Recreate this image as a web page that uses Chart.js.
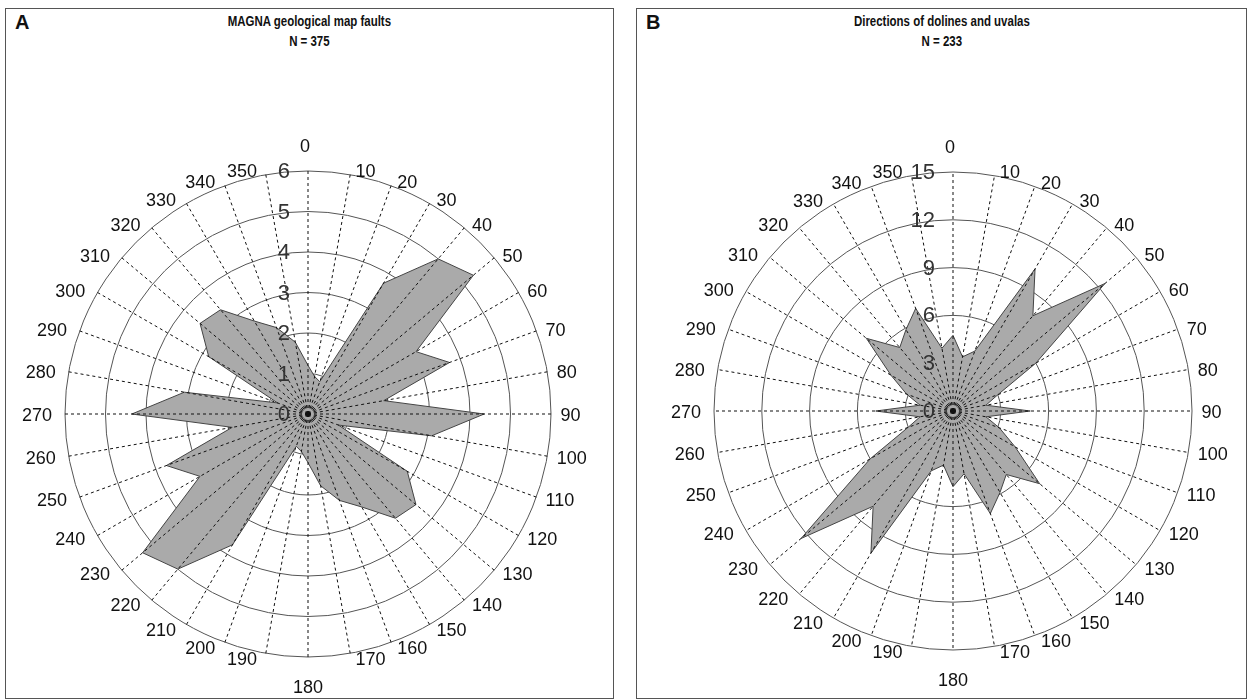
<!DOCTYPE html>
<html>
<head>
<meta charset="utf-8">
<script src="https://cdn.jsdelivr.net/npm/chart.js@4.4.0/dist/chart.umd.min.js"></script>
<style>
  body { margin: 0; background: #fff; width: 1253px; height: 699px; overflow: hidden; position: relative; }
  .panel { position: absolute; border: 1px solid #555; box-sizing: border-box; }
  .tag { position: absolute; left: 9px; top: 2px; font: bold 20px 'Liberation Sans', Arial, sans-serif; color: #111; }
  .title { position: absolute; left: 0; right: 0; top: 2px; text-align: center; }
  .title span { display: inline-block; transform: scaleX(0.74);
           font-family: 'Liberation Sans', Arial, sans-serif;
           font-weight: bold; font-size: 15.5px; line-height: 20px; color: #111; }
  canvas { position: absolute; }
</style>
</head>
<body>
<div class="panel" style="left:5px; top:8px; width:609px; height:691px;">
  <div class="tag">A</div>
  <div class="title"><span>MAGNA geological map faults<br>N = 375</span></div>
</div>
<div class="panel" style="left:636px; top:8px; width:611px; height:691px;">
  <div class="tag">B</div>
  <div class="title"><span>Directions of dolines and uvalas<br>N = 233</span></div>
</div>
<script>
// direction labels (degrees, clockwise from north)
const directions = ['0', '10', '20', '30', '40', '50', '60', '70', '80', '90', '100', '110',
    '120', '130', '140', '150', '160', '170', '180', '190', '200', '210', '220', '230',
    '240', '250', '260', '270', '280', '290', '300', '310', '320', '330', '340', '350'];

// A: MAGNA geological map faults (%)
const faultValues = [1.2, 0.94, 0.85, 3.73, 5.0, 5.33, 3.08, 3.72, 1.9, 4.35, 3.1, 0.8,
    2.83, 3.48, 3.36, 2.65, 2.27, 1.8, 1.2, 0.94, 0.85, 3.73, 5.0, 5.33,
    3.08, 3.72, 1.9, 4.35, 3.1, 0.8, 2.83, 3.48, 3.36, 2.65, 2.27, 1.8];
const faultTicks = [0, 1, 2, 3, 4, 5, 6];

// B: directions of dolines and uvalas
const dolineValues = [4.75, 3.45, 4.0, 10.3, 7.8, 12.45, 6.0, 3.0, 2.1, 4.85, 2.1, 3.1,
    4.5, 7.1, 5.2, 5.9, 6.85, 4.0, 4.75, 3.45, 4.0, 10.3, 7.8, 12.45,
    6.0, 3.0, 2.1, 4.85, 2.1, 3.1, 4.5, 7.1, 5.2, 5.9, 6.85, 4.0];
const dolineTicks = [0, 3, 6, 9, 12, 15];

const MARGIN = 45;

// dashed spokes, ring values and direction labels drawn above the filled rose
const overlayPlugin = {
    id: 'overlay',
    afterDatasetsDraw(chart) {
        const s = chart.scales.r;
        const ctx = chart.ctx;
        const R = s.drawingArea;
        const n = chart.data.labels.length;
        ctx.save();
        ctx.strokeStyle = '#111';
        ctx.lineWidth = 1;
        ctx.setLineDash([3, 3]);
        for (let i = 0; i < n; i++) {
            const p = s.getPointPosition(i, R);
            ctx.beginPath();
            ctx.moveTo(s.xCenter, s.yCenter);
            ctx.lineTo(p.x, p.y);
            ctx.stroke();
        }
        ctx.setLineDash([]);

        // ring values, just left of the north spoke
        ctx.font = '22px "Liberation Sans", Arial, sans-serif';
        ctx.fillStyle = '#333';
        ctx.textAlign = 'right';
        ctx.textBaseline = 'middle';
        s.ticks.forEach(t => {
            const r = s.getDistanceFromCenterForValue(t.value);
            ctx.fillText(String(t.value), s.xCenter - 18, s.yCenter - r + 1);
        });

        // direction labels
        ctx.font = '18px "Liberation Sans", Arial, sans-serif';
        ctx.fillStyle = '#111';
        chart.data.labels.forEach((label, i) => {
            const deg = i * 360 / n;
            let p;
            if (deg === 0) {
                p = s.getPointPosition(i, R + 24);
                ctx.textAlign = 'center';
                ctx.fillText(label, p.x - 3, p.y);
            } else if (deg === 180) {
                p = s.getPointPosition(i, R + 31);
                ctx.textAlign = 'center';
                ctx.fillText(label, p.x, p.y);
            } else if (deg < 180) {
                p = s.getPointPosition(i, R + 5);
                ctx.textAlign = 'left';
                ctx.fillText(label, p.x + 4.5, p.y + 2);
            } else {
                p = s.getPointPosition(i, R + 5);
                ctx.textAlign = 'right';
                ctx.fillText(label, p.x - 8, p.y + 2);
            }
        });
        ctx.restore();
    }
};

function drawRose(values, ticks, cx, cy, radius) {
    const size = 2 * radius + 2 * MARGIN;
    const canvas = document.createElement('canvas');
    canvas.width = size;
    canvas.height = size;
    canvas.style.width = size + 'px';
    canvas.style.height = size + 'px';
    document.body.appendChild(canvas);
    const chart = new Chart(canvas, {
        type: 'radar',
        data: {
            labels: directions,
            datasets: [{
                data: values,
                backgroundColor: '#aaaaaa',
                borderColor: '#444',
                borderWidth: 1,
                pointRadius: 0,
                tension: 0,
                fill: true
            }]
        },
        options: {
            responsive: false,
            maintainAspectRatio: false,
            animation: false,
            events: [],
            layout: { padding: MARGIN },
            plugins: { legend: { display: false }, tooltip: { enabled: false } },
            scales: {
                r: {
                    min: ticks[0],
                    max: ticks[ticks.length - 1],
                    ticks: { stepSize: ticks[1] - ticks[0], display: false },
                    grid: { circular: true, color: '#555', lineWidth: 1 },
                    angleLines: { display: false },
                    pointLabels: { display: false }
                }
            }
        },
        plugins: [overlayPlugin]
    });
    const s = chart.scales.r;
    canvas.style.left = (cx - s.xCenter) + 'px';
    canvas.style.top = (cy - s.yCenter) + 'px';
    return chart;
}

drawRose(faultValues, faultTicks, 308, 414, 243);
drawRose(dolineValues, dolineTicks, 953, 411, 239);
</script>
</body>
</html>
